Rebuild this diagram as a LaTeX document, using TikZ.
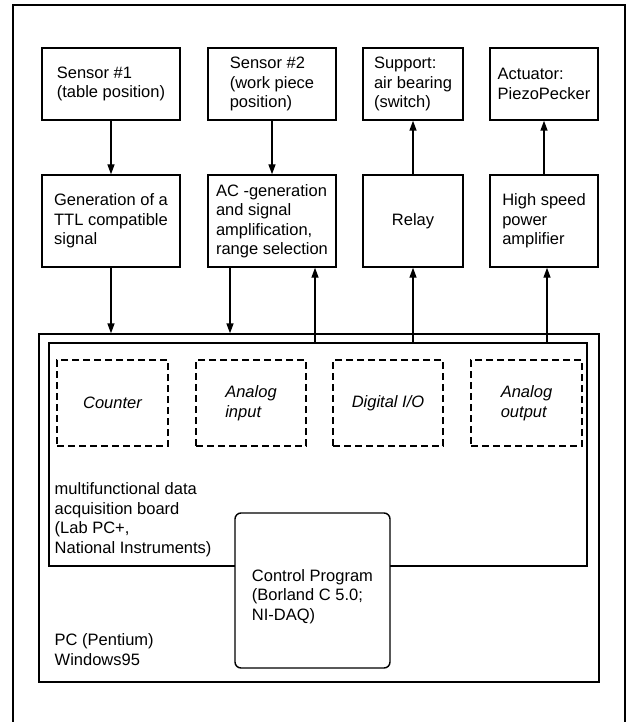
\documentclass[tikz,border=0pt]{standalone}
\usepackage{fontspec}
\setmainfont{Liberation Sans}
\usetikzlibrary{arrows.meta, positioning}
\newcommand{\blkfont}{\fontsize{16.5}{19.5}\selectfont}

\begin{document}
\begin{tikzpicture}[x=1pt, y=-1pt, line width=1.4pt,
    blk/.style={draw, align=left, font=\blkfont, inner sep=0pt},
    dblk/.style={draw, dash pattern=on 7pt off 4pt, align=left,
                 font=\blkfont\itshape, inner sep=0pt,
                 minimum width=110pt, minimum height=86pt},
    arr/.style={-{Triangle[length=10pt,width=7pt]}}]
  \useasboundingbox (0,0) rectangle (631,722);
  \draw (13,730) -- (13,5) -- (625,5) -- (625,730);

  % sensors and actors
  \node[blk, minimum width=138pt, minimum height=72pt] (sens1) at (111,84)
    {Sensor \#1\\(table position)};
  \node[blk, minimum width=128pt, minimum height=72pt] (sens2) at (272,84)
    {Sensor \#2\\(work piece\\position)};
  \node[blk, minimum width=100pt, minimum height=72pt] (support) at (413,84)
    {Support:\\air bearing\\(switch)};
  \node[blk, minimum width=108pt, minimum height=72pt] (actuator) at (544,84)
    {Actuator:\\PiezoPecker};

  % signal conditioning
  \node[blk, minimum width=138pt, minimum height=92pt] (ttl) at (111,221)
    {Generation of a\\TTL compatible\\signal};
  \node[blk, minimum width=128pt, minimum height=92pt] (acgen) at (272,221)
    {AC -generation\\and signal\\amplification,\\range selection};
  \node[blk, minimum width=100pt, minimum height=92pt] (relay) at (413,221)
    {Relay};
  \node[blk, minimum width=108pt, minimum height=92pt] (amp) at (544,221)
    {High speed\\power\\amplifier};

  % PC and board
  \node[draw, minimum width=560pt, minimum height=348pt] (pc) at (319,508) {};
  \node[draw, minimum width=538pt, minimum height=223pt] (board) at (318,454.5) {};
  \node[dblk, minimum width=111pt] (counter) at (112.5,403) {Counter};
  \node[dblk] (ain) at (251,403) {Analog\\input};
  \node[dblk] (dio) at (388,403) {Digital I/O};
  \node[dblk, minimum width=111pt] (aout) at (526.5,403) {Analog\\output};
  \node[align=left, font=\blkfont, inner sep=0pt, anchor=north west] (boardlbl)
    at (54,482) {multifunctional data\\acquisition board\\(Lab PC+,\\National Instruments)};
  \node[align=left, font=\blkfont, inner sep=0pt, anchor=north west] (pclbl)
    at (54,633) {PC (Pentium)\\Windows95};
  \node[blk, fill=white, rounded corners=6pt, minimum width=155pt,
        minimum height=155pt] (ctrl) at (312.5,590.5)
    {\rule{0pt}{24pt}Control Program\\(Borland C 5.0;\\NI-DAQ)};

  % connections
  \draw[arr] (sens1) -- (ttl);
  \draw[arr] (sens2) -- (acgen);
  \draw[arr] (relay) -- (support);
  \draw[arr] (amp) -- (actuator);
  \draw[arr] (ttl.south) -- (ttl.south |- pc.north);
  \draw[arr] ([xshift=-42pt]acgen.south) -- ([xshift=-42pt]acgen.south |- pc.north);
  \draw[arr] ([xshift=43pt]acgen.south |- board.north) -- ([xshift=43pt]acgen.south);
  \draw[arr] (relay.south |- board.north) -- (relay.south);
  \draw[arr] ([xshift=3pt]amp.south |- board.north) -- ([xshift=3pt]amp.south);
\end{tikzpicture}
\end{document}
